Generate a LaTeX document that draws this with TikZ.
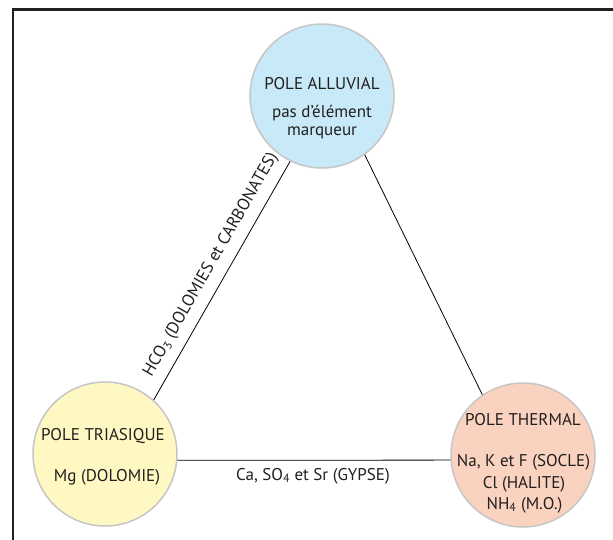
\documentclass[tikz,border=0pt]{standalone}
\usepackage{fontspec}
\setmainfont{PT Sans}
\definecolor{framecol}{HTML}{231F20}
\definecolor{txtcol}{HTML}{231F20}
\definecolor{ringcol}{HTML}{C6C6C6}
\definecolor{alluvial}{HTML}{C8E9F8}
\definecolor{triasique}{HTML}{FFF8C2}
\definecolor{thermal}{HTML}{F9D3C0}
\tikzset{
  pole/.style={circle, draw=ringcol, line width=1.5pt, minimum size=144pt, inner sep=0pt},
  lbl/.style={anchor=base, inner sep=0pt, text=txtcol, font=\fontsize{17}{20}\selectfont},
  link/.style={draw=black, line width=0.8pt},
}
\begin{document}
\begin{tikzpicture}[x=1pt,y=-1pt]
\useasboundingbox (0,0) rectangle (613,539);
\fill[white] (0,0) rectangle (613,539);
\draw[framecol, line width=2.5pt] (620,9.5) -- (13,9.5) -- (13,545);

\node[pole, fill=alluvial]  (alluvial)  at (322,96)  {};
\node[pole, fill=triasique] (triasique) at (105,454) {};
\node[pole, fill=thermal]   (thermal)   at (523,455) {};

\path[link] (triasique.48) -- node[sloped, pos=0.53, above=9pt, inner sep=0pt, text=txtcol, font=\fontsize{17}{20}\selectfont] (hcolbl) {HCO\textsubscript{3} (DOLOMIES et CARBONATES)} (alluvial.244);
\path[link] (alluvial.306) -- (thermal.124);
\path[link] (triasique.-5) -- (thermal.184);

\node[lbl] (gyp) at (313,480) {Ca, SO\textsubscript{4} et Sr (GYPSE)};

\node[lbl] (a1) at (322,89.5) {POLE ALLUVIAL};
\node[lbl] (a2) at (322,117) {pas d'élément};
\node[lbl] (a3) at (322,135) {marqueur};

\node[lbl] (t1) at (103,440) {POLE TRIASIQUE};
\node[lbl] (t2) at (107,481.5) {Mg (DOLOMIE)};

\node[lbl] (h1) at (523,425) {POLE THERMAL};
\node[lbl] (h2) at (523.5,466.7) {Na, K et F (SOCLE)};
\node[lbl] (h3) at (524,488.3) {Cl (HALITE)};
\node[lbl] (h4) at (524.5,509.3) {NH\textsubscript{4} (M.O.)};
\end{tikzpicture}
\end{document}
